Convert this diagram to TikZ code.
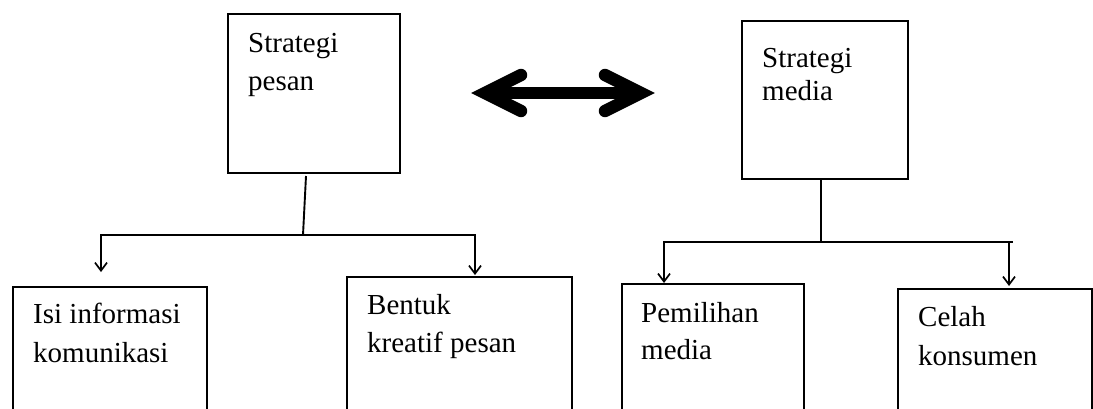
\documentclass[tikz,border=0pt]{standalone}
\usepackage{fontspec}
\setmainfont{Liberation Serif}
\usetikzlibrary{arrows.meta}

\tikzset{
  box/.style={draw, line width=2.2pt, anchor=north west, inner sep=0pt, fill=none},
  txt/.style={anchor=base west, inner sep=0pt, font=\fontsize{29}{39}\selectfont},
  link/.style={line width=1.9pt},
  down/.style={line width=1.9pt, -{Straight Barb[length=8pt,width=12pt,line width=1.7pt]}},
  fat/.style={line width=12.5pt, line cap=round, line join=miter, miter limit=10},
}

\begin{document}
\begin{tikzpicture}[x=1pt,y=-1pt]
\clip (0,0) rectangle (1093,408);

% top boxes
\node[box, minimum width=172pt, minimum height=159pt] (sp) at (227,13) {};
\node[box, minimum width=166pt, minimum height=158pt] (sm) at (741,20) {};
\node[txt] (sp1) at (248,52) {Strategi};
\node[txt] (sp2) at (248,90) {pesan};
\node[txt] (sm1) at (762,67) {Strategi};
\node[txt] (sm2) at (762,100) {media};

% bottom boxes (run past the lower edge)
\node[box, minimum width=194pt, minimum height=140pt] (isi) at (12,286) {};
\node[box, minimum width=225pt, minimum height=150pt] (ben) at (346,276) {};
\node[box, minimum width=182pt, minimum height=140pt] (pem) at (621,283) {};
\node[box, minimum width=194pt, minimum height=140pt] (cel) at (897,288) {};
\node[txt] (isi1) at (33,323) {Isi informasi};
\node[txt] (isi2) at (33,362) {komunikasi};
\node[txt] (ben1) at (367,314) {Bentuk};
\node[txt] (ben2) at (367,352) {kreatif pesan};
\node[txt] (pem1) at (641,322) {Pemilihan};
\node[txt] (pem2) at (641,359) {media};
\node[txt] (cel1) at (918,326) {Celah};
\node[txt] (cel2) at (918,365) {konsumen};

% branch points
\coordinate (ls) at (306,176);
\coordinate (lj) at (303,235);
\coordinate (ll) at (100,235);
\coordinate (lr) at (476,235);
\coordinate (rs) at (821,180);
\coordinate (rj) at (821,242);
\coordinate (rl) at (663,242);
\coordinate (rr) at (1013,242);

% arrow ends above the lower boxes
\coordinate (la1) at (101,235);
\coordinate (la2) at (101,272);
\coordinate (lb1) at (475,235);
\coordinate (lb2) at (475,275);
\coordinate (ra1) at (664,242);
\coordinate (ra2) at (664,283);
\coordinate (rb1) at (1009,242);
\coordinate (rb2) at (1009,286);

% left tree
\draw[link] (ls) -- (lj);
\draw[link] (ll) -- (lr);
\draw[down] (la1) -- (la2);
\draw[down] (lb1) -- (lb2);

% right tree
\draw[link] (rs) -- (rj);
\draw[link] (rl) -- (rr);
\draw[down] (ra1) -- (ra2);
\draw[down] (rb1) -- (rb2);

% double arrow between the two strategies
\coordinate (dl) at (485,93);
\coordinate (dr) at (641,93);
\coordinate (dlu) at (521,75);
\coordinate (dld) at (521,111);
\coordinate (dru) at (605,75);
\coordinate (drd) at (605,111);
\draw[line width=12pt] (dl) -- (dr);
\draw[fat] (dlu) -- (dl) -- (dld);
\draw[fat] (dru) -- (dr) -- (drd);
\end{tikzpicture}
\end{document}
